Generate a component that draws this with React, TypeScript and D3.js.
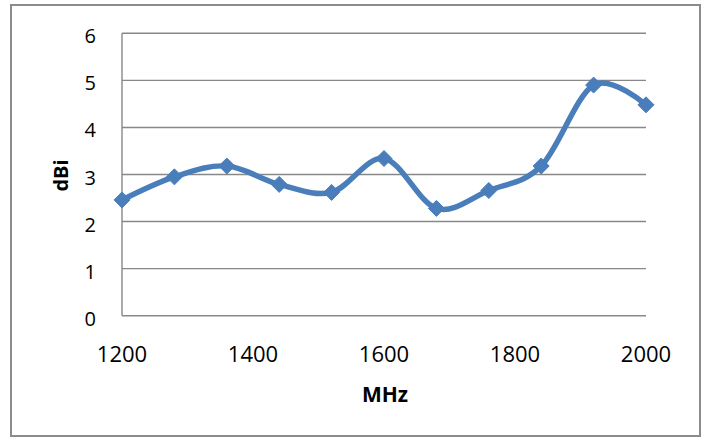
import React from "react";
import * as d3 from "d3";

const freqs = [1200, 1280, 1360, 1440, 1520, 1600, 1680, 1760, 1840, 1920, 2000];
const gains = [2.46, 2.95, 3.18, 2.79, 2.62, 3.34, 2.28, 2.66, 3.18, 4.9, 4.48];
const yTicks = [0, 1, 2, 3, 4, 5, 6];
const xTicks = [1200, 1400, 1600, 1800, 2000];

const W = 710;
const H = 441;
const left = 122;
const right = 646;
const top = 33.3;
const bottom = 315.7;
const FONT = "'Open Sans', 'Liberation Sans', sans-serif";

export default function App() {
  const x = d3.scaleLinear().domain([1200, 2000]).range([left, right]);
  const y = d3.scaleLinear().domain([0, 6]).range([bottom, top]);
  const pts = freqs.map((f, i) => [x(f), y(gains[i])] as [number, number]);
  const line = d3.line().curve(d3.curveCatmullRom.alpha(0))(pts) || "";
  const diamond = (cx: number, cy: number, r: number) =>
    `M${cx},${cy - r}L${cx + r},${cy}L${cx},${cy + r}L${cx - r},${cy}Z`;

  return (
    <div style={{ position: "absolute", left: 0, top: 0 }}>
      <svg width={W} height={H} style={{ display: "block", background: "#fff" }}>
        <rect x={11} y={5} width={689} height={431} fill="#fff" stroke="#8c8c8c" strokeWidth={2} />
        {yTicks.map((t) => (
          <line key={"g" + t} x1={left} x2={right} y1={y(t)} y2={y(t)} stroke="#888" strokeWidth={1.4} />
        ))}
        <line x1={left} x2={left} y1={top} y2={bottom} stroke="#888" strokeWidth={1.4} />
        {yTicks.map((t) => (
          <text key={"y" + t} x={96} y={y(t) + 10} textAnchor="end" fontFamily={FONT} fontSize={20} fill="#000">
            {t}
          </text>
        ))}
        {xTicks.map((t) => (
          <text key={"x" + t} x={x(t)} y={362} textAnchor="middle" fontFamily={FONT} fontSize={22} fill="#000">
            {t}
          </text>
        ))}
        <text x={385} y={402} textAnchor="middle" fontFamily={FONT} fontSize={21} fontWeight="bold" fill="#000">
          MHz
        </text>
        <text
          transform={`translate(68,175.5) rotate(-90)`}
          textAnchor="middle"
          fontFamily={FONT}
          fontSize={20}
          fontWeight="bold"
          fill="#000"
        >
          dBi
        </text>
        <path d={line} fill="none" stroke="#4a7ebb" strokeWidth={5.5} strokeLinejoin="round" strokeLinecap="round" />
        {pts.map(([cx, cy], i) => (
          <path key={"m" + i} d={diamond(cx, cy, 8)} fill="#4a7ebb" stroke="#4a7ebb" strokeWidth={1} />
        ))}
      </svg>
    </div>
  );
}
